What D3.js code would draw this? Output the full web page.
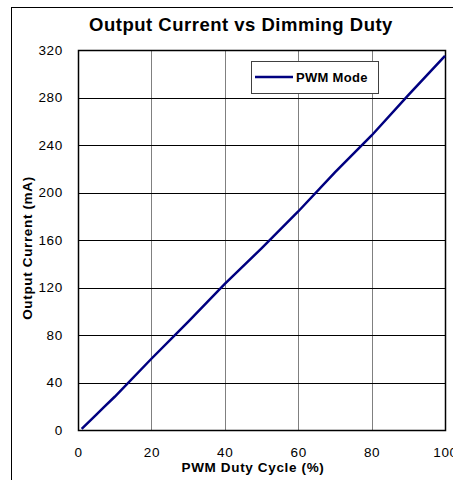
<!DOCTYPE html>
<html><head><meta charset="utf-8">
<script src="https://cdn.jsdelivr.net/npm/d3@7/dist/d3.min.js"></script>
<style>body{margin:0;background:#fff}svg{display:block;font-family:"Liberation Sans",Arial,sans-serif}</style>
</head><body>
<script>
const dutyCycle = [1, 5, 7, 10, 20, 30, 40, 50, 60, 70, 80, 90, 100];
const outputCurrent = [1, 13, 19, 28, 60, 91, 123, 153, 184, 217, 248, 282, 315];
const xTicks = [0, 20, 40, 60, 80, 100];
const yTicks = [0, 40, 80, 120, 160, 200, 240, 280, 320];
const seriesName = "PWM Mode";
const title = "Output Current vs Dimming Duty";
const xTitle = "PWM Duty Cycle (%)";
const yTitle = "Output Current (mA)";

const W = 453, H = 480;
const svg = d3.select("body").append("svg").attr("width", W).attr("height", H);
const L = 78, R = 445, T = 50, B = 430;
const x = d3.scaleLinear().domain([0, 100]).range([L, R]);
const y = d3.scaleLinear().domain([0, 320]).range([B, T]);

// outer frame
svg.append("rect").attr("x", 11.5).attr("y", 7.5).attr("width", 460).attr("height", 500)
  .attr("fill", "none").attr("stroke", "#000").attr("stroke-width", 1);

svg.append("text").attr("x", 241).attr("y", 31).attr("text-anchor", "middle")
  .attr("font-size", 18.5).attr("font-weight", "bold").attr("letter-spacing", 0.5).text(title);

// gridlines
svg.append("g").selectAll("line").data(xTicks.slice(1, -1)).join("line")
  .attr("x1", d => Math.round(x(d)) + 0.5).attr("x2", d => Math.round(x(d)) + 0.5)
  .attr("y1", T).attr("y2", B).attr("stroke", "#808080").attr("stroke-width", 1);
svg.append("g").selectAll("line").data(yTicks.slice(1, -1)).join("line")
  .attr("y1", d => Math.round(y(d)) + 0.5).attr("y2", d => Math.round(y(d)) + 0.5)
  .attr("x1", L).attr("x2", R).attr("stroke", "#000").attr("stroke-width", 1);

// axes
const xAxis = svg.append("g").attr("transform", `translate(0,${B})`)
  .call(d3.axisBottom(x).tickValues(xTicks).tickSize(0).tickPadding(17));
xAxis.select(".domain").remove();
xAxis.selectAll("text").attr("font-size", 13.5).attr("letter-spacing", 0.7)
  .attr("font-family", "Liberation Sans, Arial, sans-serif").attr("fill", "#000");
const yAxis = svg.append("g").attr("transform", `translate(${L},0)`)
  .call(d3.axisLeft(y).tickValues(yTicks).tickSize(0).tickPadding(15));
yAxis.select(".domain").remove();
yAxis.selectAll("text").attr("font-size", 13.5).attr("letter-spacing", 0.7)
  .attr("font-family", "Liberation Sans, Arial, sans-serif").attr("fill", "#000");

// plot border
svg.append("rect").attr("x", L + 0.5).attr("y", T + 0.5).attr("width", R - L).attr("height", B - T)
  .attr("fill", "none").attr("stroke", "#000").attr("stroke-width", 1.5);

// line
const pts = dutyCycle.map((d, i) => [d, outputCurrent[i]]);
svg.append("path").datum(pts)
  .attr("d", d3.line().x(d => x(d[0])).y(d => y(d[1])))
  .attr("fill", "none").attr("stroke", "#000080").attr("stroke-width", 2.5);

// legend
svg.append("rect").attr("x", 251.5).attr("y", 61.5).attr("width", 127).attr("height", 32)
  .attr("fill", "#fff").attr("stroke", "#404040").attr("stroke-width", 1);
svg.append("line").attr("x1", 255).attr("x2", 293).attr("y1", 77).attr("y2", 77)
  .attr("stroke", "#000080").attr("stroke-width", 2.5);
svg.append("text").attr("x", 296).attr("y", 82).attr("font-size", 13).attr("letter-spacing", 0.3)
  .attr("font-weight", "bold").text(seriesName);

// axis titles
svg.append("text").attr("x", 253).attr("y", 472).attr("text-anchor", "middle")
  .attr("font-size", 13.5).attr("letter-spacing", 0.65).attr("font-weight", "bold").text(xTitle);
svg.append("text").attr("transform", "translate(32,248) rotate(-90)").attr("text-anchor", "middle")
  .attr("font-size", 13.5).attr("letter-spacing", 0.65).attr("font-weight", "bold").text(yTitle);
</script>
</body></html>
